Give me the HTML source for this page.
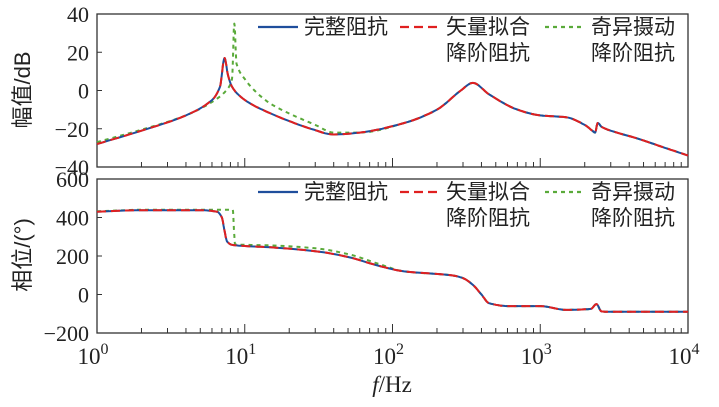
<!DOCTYPE html>
<html><head><meta charset="utf-8"><style>
body{margin:0;background:#fff}
svg text{font-family:"Liberation Serif","Noto Serif CJK SC",serif;fill:#222}
.cj{font-family:"Liberation Sans","Noto Sans CJK SC",sans-serif}
</style></head><body>
<svg id="c" width="719" height="402"></svg>
<script>
const freqMag=[1,2,4,6,6.8,7.3,7.7,8.2,9,11,15,20,28,40,60,120,200,290,350,450,700,1000,1500,2000,2250,2350,2450,2600,3000,4500,7000,10000];
const magFull=[-28,-21,-13,-5,2,17,8,2,-2,-7,-12,-16,-20,-23,-22,-17,-10,0,4,-2,-10,-13,-14,-18,-21,-22,-17,-19,-21,-25,-30,-34];
const freqMagSP=[1,2,4,6,7.5,8.2,8.5,8.8,10,12,15,20,30,40,60,120,200,290,350,450,700,1000,1500,2000,2250,2350,2450,2600,3000,4500,7000,10000];
const magSP=[-27,-20.5,-13,-6,0,6,35,14,6,-1,-7,-12,-18,-22,-22,-17,-10,0,4,-2,-10,-13,-14,-18,-21,-22,-17,-19,-21,-25,-30,-34];
const freqPh=[1,2,5,6.5,7,7.3,7.6,8.2,10,15,30,50,80,120,250,300,350,400,450,600,1000,1500,2200,2400,2600,3000,10000];
const phFull=[430,438,438,430,400,330,275,258,252,245,225,195,150,120,100,85,50,0,-45,-60,-60,-80,-75,-50,-88,-90,-90];
const freqPhSP=[1,2,5,8.3,8.45,8.6,10,15,30,50,80,120,250,300,350,400,450,600,1000,1500,2200,2400,2600,3000,10000];
const phSP=[432,440,440,440,340,260,258,255,240,210,160,120,100,85,50,0,-45,-60,-60,-80,-75,-50,-88,-90,-90];
const magTicks=[40,20,0,-20,-40], phTicks=[600,400,200,0,-200], decades=[0,1,2,3,4];
const svg=document.getElementById('c'),NS='http://www.w3.org/2000/svg';
const X0=97,X1=688;
const xs=f=>X0+(Math.log10(f))/4*(X1-X0);
function el(t,a,p){const e=document.createElementNS(NS,t);for(const k in a)e.setAttribute(k,a[k]);(p||svg).appendChild(e);return e;}
// monotone cubic in log-frequency
function smooth(fs,vs,ys){
  const x=fs.map(xs),n=x.length,d=[],m=[];
  for(let i=0;i<n-1;i++)d.push((vs[i+1]-vs[i])/(x[i+1]-x[i]));
  m[0]=d[0];m[n-1]=d[n-2];
  for(let i=1;i<n-1;i++)m[i]=(d[i-1]*d[i]<=0)?0:2/(1/d[i-1]+1/d[i]);
  let s='M'+x[0].toFixed(1)+','+ys(vs[0]).toFixed(1);
  for(let i=0;i<n-1;i++){const h=x[i+1]-x[i];
    for(let k=1;k<=8;k++){const t=k/8,t2=t*t,t3=t2*t;
      const v=(2*t3-3*t2+1)*vs[i]+(t3-2*t2+t)*h*m[i]+(-2*t3+3*t2)*vs[i+1]+(t3-t2)*h*m[i+1];
      s+='L'+(x[i]+t*h).toFixed(1)+','+ys(v).toFixed(1);}}
  return s;
}
function panel(name,top,bot,ymax,ymin,ticks,series,ylabel,lx,ly){
  const g=el('g',{});
  
  
  const ys=v=>top+(ymax-v)/(ymax-ymin)*(bot-top);
  el('rect',{x:X0,y:top,width:X1-X0,height:bot-top,fill:'none',stroke:'#333','stroke-width':1.3},g);
  ticks.forEach(t=>{el('line',{x1:X0,x2:X0+5,y1:ys(t),y2:ys(t),stroke:'#333'},g);
    const tx=el('text',{x:X0-8,y:ys(t)+8,'text-anchor':'end','font-size':22},g);tx.textContent=t<0?'\u2212'+(-t):t;
    });
  for(let d=0;d<4;d++)for(let m=2;m<=10;m++){const x=xs(m*Math.pow(10,d));el('line',{x1:x,x2:x,y1:bot,y2:bot-(m==10?9:5),stroke:'#333'},g);}
  series.forEach(s=>{
    const p=el('path',{d:smooth(s.f,s.v,ys),fill:'none',stroke:s.c,'stroke-width':s.w,'stroke-dasharray':s.d||'','stroke-linejoin':'round'},g);
    });
  const yl=el('text',{x:0,y:0,'font-size':22,'text-anchor':'middle',class:'cj',transform:`translate(${lx},${ly}) rotate(-90)`},g);yl.textContent=ylabel;
  
  const L=[[258,'#1f4e9c','','完整阻抗',''],[400,'#e02020','9 5','矢量拟合','降阶阻抗'],[545,'#5aaa3a','4 4','奇异摄动','降阶阻抗']];
  const ly0=top+20;
  L.forEach(l=>{const lg=el('g',{},g);
    el('line',{x1:l[0],x2:l[0]+40,y1:ly0-7,y2:ly0-7,stroke:l[1],'stroke-width':2.2,'stroke-dasharray':l[2]},lg);
    const t=el('text',{x:l[0]+46,y:ly0,'font-size':21,class:'cj'},lg);t.textContent=l[3];
    if(l[4]){const t2=el('text',{x:l[0]+46,y:ly0+26,'font-size':21,class:'cj'},lg);t2.textContent=l[4];}});
}
panel('magnitude-panel',14,167,40,-40,magTicks,[
 {f:freqMagSP,v:magSP,c:'#5aaa3a',w:2,d:'4 4',n:'sp-magnitude-line'},
 {f:freqMag,v:magFull,c:'#1f4e9c',w:2,n:'full-magnitude-line'},
 {f:freqMag,v:magFull,c:'#e02020',w:2,d:'9 5',n:'vf-magnitude-line'}],'幅值/dB',30,90);
panel('phase-panel',179,333,600,-200,phTicks,[
 {f:freqPhSP,v:phSP,c:'#5aaa3a',w:2,d:'4 4',n:'sp-phase-line'},
 {f:freqPh,v:phFull,c:'#1f4e9c',w:2,n:'full-phase-line'},
 {f:freqPh,v:phFull,c:'#e02020',w:2,d:'9 5',n:'vf-phase-line'}],'相位/(°)',30,255);
decades.forEach(d=>{const t=el('text',{x:xs(Math.pow(10,d))-4,y:364,'font-size':23,'text-anchor':'middle'});
 
 t.textContent='10';const s=el('tspan',{dy:-10,'font-size':16},t);s.textContent=d;});
const xl=el('text',{x:392,y:392,'font-size':23,'text-anchor':'middle'});

const fi=el('tspan',{'font-style':'italic'},xl);fi.textContent='f';const hz=el('tspan',{},xl);hz.textContent='/Hz';
</script>
</body></html>
